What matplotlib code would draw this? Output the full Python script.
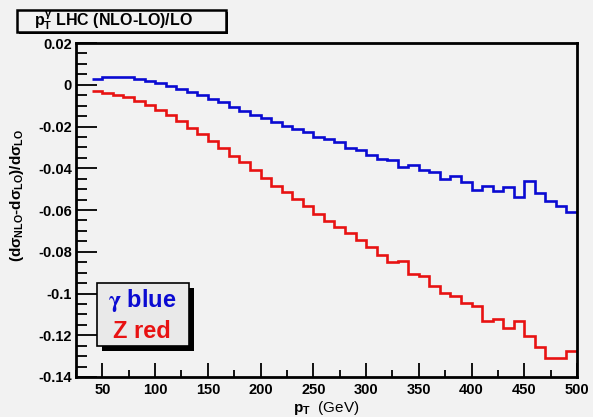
import numpy as np
import matplotlib
matplotlib.use("Agg")
import matplotlib.pyplot as plt
from matplotlib.patches import Rectangle

# ---- data ----
bin_edges = np.arange(40, 501, 10)
gamma_vals = [0.0029, 0.0037, 0.0038, 0.0035, 0.0027, 0.0018, 0.0007, -0.0006,
              -0.0019, -0.0034, -0.0049, -0.0066, -0.0082, -0.0105, -0.0128, -0.0144,
              -0.0160, -0.0178, -0.0196, -0.0210, -0.0226, -0.0249, -0.0261, -0.0276,
              -0.0302, -0.0311, -0.0338, -0.0356, -0.0362, -0.0392, -0.0383, -0.0407,
              -0.0420, -0.0451, -0.0437, -0.0468, -0.0504, -0.0486, -0.0508, -0.0488,
              -0.0536, -0.0463, -0.0518, -0.0559, -0.0580, -0.0608]
z_vals = [-0.0032, -0.0038, -0.0048, -0.0060, -0.0078, -0.0098, -0.0120, -0.0144,
          -0.0176, -0.0205, -0.0238, -0.0270, -0.0305, -0.0339, -0.0372, -0.0408,
          -0.0445, -0.0484, -0.0516, -0.0547, -0.0582, -0.0617, -0.0655, -0.0680,
          -0.0708, -0.0742, -0.0779, -0.0815, -0.0851, -0.0842, -0.0906, -0.0918,
          -0.0966, -0.0998, -0.1014, -0.1046, -0.1062, -0.1131, -0.1123, -0.1165,
          -0.1134, -0.1205, -0.1254, -0.1310, -0.1310, -0.1277]
xticks = [50, 100, 150, 200, 250, 300, 350, 400, 450, 500]
yticks = [0.02, 0, -0.02, -0.04, -0.06, -0.08, -0.1, -0.12, -0.14]
ytick_labels = ["0.02", "0", "-0.02", "-0.04", "-0.06", "-0.08", "-0.1", "-0.12", "-0.14"]
title_text = r"$p_{T}^{\gamma}$ LHC (NLO-LO)/LO"
ylabel_text = r"$(d\sigma_{NLO}$-$d\sigma_{LO})/d\sigma_{LO}$"
xlabel_text = r"$p_{T}$  (GeV)"
legend_entries = [(r"$\mathrm{\gamma}$ blue", "#0a0ad2"), ("Z red", "#e81212")]

# ---- style ----
plt.rcParams['font.family'] = ['Liberation Sans', 'DejaVu Sans']
plt.rcParams['font.weight'] = 'bold'
plt.rcParams['mathtext.fontset'] = 'custom'
plt.rcParams['mathtext.rm'] = 'Liberation Sans:bold'
plt.rcParams['mathtext.it'] = 'Liberation Sans:bold'
plt.rcParams['mathtext.bf'] = 'Liberation Sans:bold'
plt.rcParams['mathtext.sf'] = 'Liberation Sans:bold'

bg = '#f2f2f2'
W, H = 593, 417
fig = plt.figure(figsize=(W / 100, H / 100), dpi=100, facecolor=bg)
ax = fig.add_axes([76 / W, 1 - 377 / H, (577 - 76) / W, (377 - 43) / H])
ax.set_facecolor(bg)

ax.stairs(gamma_vals, bin_edges, color='#0a0ad2', linewidth=1.9, baseline=None)
ax.stairs(z_vals, bin_edges, color='#e81212', linewidth=1.9, baseline=None)

ax.set_xlim(40, 500)
ax.set_ylim(-0.14, 0.02)
ax.set_xticks(xticks)
ax.set_xticks(np.arange(25, 501, 25), minor=True)
ax.set_yticks(yticks)
ax.set_yticklabels(ytick_labels)
ax.set_yticks(np.arange(-0.14, 0.0201, 0.005), minor=True)

for s in ax.spines.values():
    s.set_linewidth(2.0)
ax.tick_params(axis='both', which='both', direction='in', top=False, right=False,
               labelsize=10.5, width=1.3)
ax.tick_params(axis='y', which='major', length=15, pad=3)
ax.tick_params(axis='y', which='minor', length=8)
ax.tick_params(axis='x', which='major', length=10, pad=4)
ax.tick_params(axis='x', which='minor', length=5)
for lab in ax.get_xticklabels() + ax.get_yticklabels():
    lab.set_fontweight('bold')

ax.set_xlabel(xlabel_text, fontsize=11, labelpad=2)
ax.text(-0.118, 0.545, ylabel_text, transform=ax.transAxes, rotation=90,
        ha='center', va='center', fontsize=11)

# ---- title box ----
def fig_rect(x0, y0, x1, y1, **kw):
    return Rectangle((x0 / W, 1 - y1 / H), (x1 - x0) / W, (y1 - y0) / H,
                     transform=fig.transFigure, **kw)

fig.patches.append(fig_rect(19, 12, 228, 34, facecolor='black', edgecolor='none'))
fig.patches.append(fig_rect(17, 10, 226, 32, facecolor=bg, edgecolor='black', linewidth=1.8))
fig.text(34 / W, 1 - 21 / H, title_text, ha='left', va='center', fontsize=11.5)

# ---- legend box ----
fig.patches.append(fig_rect(102, 288, 194, 351, facecolor='black', edgecolor='none'))
fig.patches.append(fig_rect(97, 283, 189, 346, facecolor='#e9e9e9', edgecolor='black', linewidth=1.2))
t1 = fig.text(142 / W, 1 - 300 / H, legend_entries[0][0], ha='center', va='center',
              fontsize=17, color=legend_entries[0][1], fontweight='bold')
t1.set_math_fontfamily('stix')
fig.text(142 / W, 1 - 332 / H, legend_entries[1][0], ha='center', va='center',
         fontsize=17, color=legend_entries[1][1], fontweight='bold')

fig.savefig('out.png', dpi=100, facecolor=bg)
